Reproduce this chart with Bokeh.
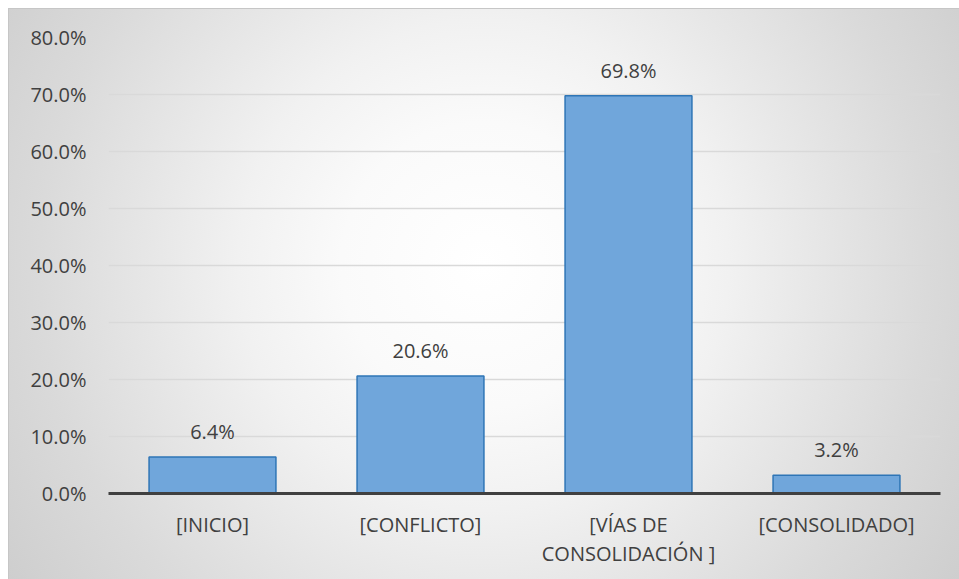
from bokeh.plotting import figure
from bokeh.models import (ColumnDataSource, LabelSet, FixedTicker, PrintfTickFormatter,
                          Range1d, CategoricalAxis, CustomJSTickFormatter)
from bokeh.core.properties import value
from bokeh.embed import file_html
from bokeh.resources import INLINE

categories = ["[INICIO]", "[CONFLICTO]", "[VÍAS DE CONSOLIDACIÓN ]", "[CONSOLIDADO]"]
label_line1 = ["[INICIO]", "[CONFLICTO]", "[VÍAS DE", "[CONSOLIDADO]"]
label_line2 = ["", "", "CONSOLIDACIÓN ]", ""]
values = [6.4, 20.6, 69.8, 3.2]
y_ticks = [0, 10, 20, 30, 40, 50, 60, 70, 80]

labels = [f"{v:.1f}%" for v in values]
src = ColumnDataSource(dict(cat=categories, val=values, lab=labels))

FONT = "Open Sans"
TXT = "#404040"
FS = "20px"

p = figure(x_range=categories, y_range=Range1d(0, 80), width=959, height=579,
           output_backend="svg", toolbar_location=None, x_axis_location=None,
           min_border_left=108, min_border_right=19, min_border_top=37, min_border_bottom=86)
p.background_fill_color = None
p.border_fill_color = None
p.outline_line_color = None
p.styles = {"background": ("linear-gradient(#c6c6c6,#c6c6c6) 8px 8px / 951px 1px no-repeat, "
                           "linear-gradient(#c6c6c6,#c6c6c6) 8px 8px / 1px 571px no-repeat, "
                           "radial-gradient(circle farthest-corner at 50% 45%, #ffffff 0%, #fafafa 25%, "
                           "#f1f1f1 43%, #dadada 78%, #cecece 100%) "
                           "8px 8px / 951px 571px no-repeat, #ffffff")}

p.vbar(x="cat", top="val", width=0.61, source=src,
       fill_color="#70A6DB", line_color="#2E75B6", line_width=1.5)

p.add_layout(LabelSet(x="cat", y="val", text="lab", source=src, text_align="center",
                      text_baseline="alphabetic", y_offset=18,
                      text_font=value(FONT), text_font_size=value(FS), text_color=TXT))

p.yaxis.ticker = FixedTicker(ticks=y_ticks)
p.yaxis.formatter = PrintfTickFormatter(format="%.1f%%")
p.yaxis.axis_line_color = None
p.yaxis.major_tick_line_color = None
p.yaxis.minor_tick_line_color = None
p.yaxis.major_label_standoff = 16
p.yaxis.major_label_text_font = FONT
p.yaxis.major_label_text_font_size = FS
p.yaxis.major_label_text_color = TXT


def make_axis(lines, standoff):
    ax = CategoricalAxis()
    ax.formatter = CustomJSTickFormatter(args=dict(m=dict(zip(categories, lines))),
                                         code="return (tick in m) ? m[tick] : tick;")
    ax.major_tick_line_color = None
    ax.minor_tick_line_color = None
    ax.major_label_standoff = standoff
    ax.major_label_text_font = FONT
    ax.major_label_text_font_size = FS
    ax.major_label_text_color = TXT
    ax.major_label_orientation = "horizontal"
    return ax


ax1 = make_axis(label_line1, 11)
ax1.axis_line_color = "#404040"
ax1.axis_line_width = 3
p.add_layout(ax1, "below")

ax2 = make_axis(label_line2, -7)
ax2.axis_line_color = None
p.add_layout(ax2, "below")

p.xgrid.grid_line_color = None
p.ygrid.grid_line_color = "#d9d9d9"
p.ygrid.grid_line_width = 1.5

open("out.html", "w").write(file_html(p, INLINE))
